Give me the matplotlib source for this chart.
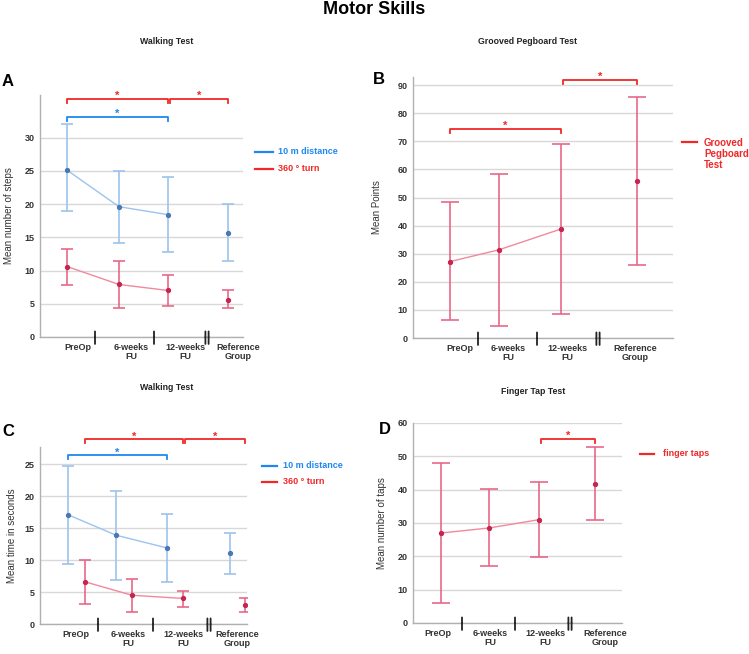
import matplotlib.pyplot as plt
from matplotlib.lines import Line2D

plt.rcParams['font.family'] = ['Liberation Sans', 'DejaVu Sans']
plt.rcParams['font.weight'] = 'bold'

# _____________________________________________________________________________
#                               Data
# _____________________________________________________________________________
groups = ['PreOp', '6-weeks\nFU', '12-weeks\nFU', 'Reference\nGroup']

# A - walking test, number of steps
steps_dist = [25.1, 19.6, 18.4, 15.7]
steps_dist_lo = [18.9, 14.2, 12.8, 11.5]
steps_dist_hi = [32.1, 25.0, 24.1, 20.0]
steps_turn = [10.6, 7.9, 7.0, 5.5]
steps_turn_lo = [7.8, 4.4, 4.6, 4.3]
steps_turn_hi = [13.3, 11.5, 9.4, 7.0]

# B - grooved pegboard, points
peg = [27.2, 31.4, 38.8, 56.0]
peg_lo = [6.3, 4.2, 8.7, 25.9]
peg_hi = [48.5, 58.5, 68.9, 85.8]

# C - walking test, time in seconds
time_dist = [17.1, 13.9, 11.9, 11.1]
time_dist_lo = [9.4, 6.9, 6.6, 7.8]
time_dist_hi = [24.7, 20.8, 17.2, 14.2]
time_turn = [6.6, 4.5, 4.0, 3.0]
time_turn_lo = [3.2, 1.8, 2.6, 1.8]
time_turn_hi = [10.0, 7.0, 5.2, 4.1]

# D - finger tap test
taps = [27.0, 28.5, 31.0, 41.8]
taps_lo = [6.0, 17.0, 19.7, 31.0]
taps_hi = [48.0, 40.2, 42.2, 52.9]

# significance brackets: (from group, to group, height)
sig_a_red = [(0, 2, 35.8), (2, 3, 35.8)]
sig_a_blue = [(0, 2, 33.1)]
sig_b = [(0, 2, 74.4), (2, 3, 91.8)]
sig_c_red = [(0, 2, 28.9), (2, 3, 28.9)]
sig_c_blue = [(0, 2, 26.4)]
sig_d = [(2, 3, 55.2)]

# _____________________________________________________________________________
#                           Graphic settings
# _____________________________________________________________________________
W, H = 749, 654
BLUE_BAR = '#9cc3ee'
BLUE_PT = '#4a78b4'
RED_BAR = '#e8688a'
RED_LINE = '#f08a9c'
RED_PT = '#c42650'
BLUE_SIG = '#1e88f0'
RED_SIG = '#f02828'
TXT = '#333333'

fig = plt.figure(figsize=(W / 100, H / 100), dpi=100)


def px_rect(x0, y0, x1, y1):
    # pixel box (top-left origin) to figure fraction
    return [x0 / W, 1 - y1 / H, (x1 - x0) / W, (y1 - y0) / H]


def panel(box, ylim, yticks, ylabel, xlab, xsep, ylab_x):
    ax = fig.add_axes(px_rect(*box))
    ax.set_xlim(0, box[2] - box[0])
    ax.set_ylim(*ylim)
    ax.set_yticks(yticks)
    ax.set_xticks([])
    ax.grid(axis='y', color='#d8d8d8', lw=1)
    ax.set_axisbelow(True)
    for s in ['top', 'right']:
        ax.spines[s].set_visible(False)
    for s in ['left', 'bottom']:
        ax.spines[s].set_color('#b0b0b0')
        ax.spines[s].set_linewidth(1)
    ax.spines['left'].set_bounds(0, ylim[1])
    ax.tick_params(axis='y', length=0, labelsize=6.5, labelcolor=TXT, pad=4)
    ax.set_ylabel(ylabel, fontsize=7, color=TXT)
    ax.yaxis.set_label_coords(ylab_x, 0.5)
    trans = ax.get_xaxis_transform()
    for x, g in zip(xlab, groups):
        ax.annotate(g, (x, 0), xycoords=trans, xytext=(0, -4),
                    textcoords='offset points', ha='center', va='top',
                    fontsize=6.5, color=TXT, linespacing=1.1)
    # category separators (double one before the reference group)
    for i, x in enumerate(xsep):
        offs = [-1.6, 1.6] if i == len(xsep) - 1 else [0]
        for o in offs:
            ax.annotate('', (x + o, 0), xycoords=trans, xytext=(0, -5),
                        textcoords='offset points',
                        arrowprops=dict(arrowstyle='-', color='#222222',
                                        lw=1.3, shrinkA=0, shrinkB=0))
            ax.annotate('', (x + o, 0), xycoords=trans, xytext=(0, 4),
                        textcoords='offset points',
                        arrowprops=dict(arrowstyle='-', color='#222222',
                                        lw=1.3, shrinkA=0, shrinkB=0))
    return ax


def series(ax, xs, mean, lo, hi, bar_c, line_c, pt_c, cap):
    ax.plot(xs[:3], mean[:3], color=line_c, lw=1, zorder=3)
    err = [[m - l for m, l in zip(mean, lo)], [h - m for m, h in zip(mean, hi)]]
    ax.errorbar(xs, mean, yerr=err, fmt='none', ecolor=bar_c, elinewidth=1.2,
                capsize=cap, capthick=1.2, zorder=2)
    ax.plot(xs, mean, 'o', color=pt_c, ms=2.8, zorder=4)


def brackets(ax, xs, sigs, color, drop):
    for a, b, y in sigs:
        x0 = xs[a] + (2 if a > 0 else 0)
        x1 = xs[b]
        ax.plot([x0, x0, x1, x1], [y - drop, y, y, y - drop], color=color,
                lw=1.3, clip_on=False)
        ax.annotate('*', ((x0 + x1) / 2, y), xytext=(0, -1.5),
                    textcoords='offset points', color=color, ha='center',
                    va='bottom', fontsize=8, annotation_clip=False)


def key(x0, x1, xt, y0, step, entries, size=6.5):
    # legend drawn in figure pixels: line from x0 to x1, text at xt
    for i, (c, t) in enumerate(entries):
        y = 1 - (y0 + i * step) / H
        fig.add_artist(Line2D([x0 / W, x1 / W], [y, y], color=c, lw=1.6,
                              transform=fig.transFigure))
        fig.text(xt / W, y + 4.5 / H, t, color=c, fontsize=size, ha='left',
                 va='top', linespacing=1.15)


# _____________________________________________________________________________
#                               Titles
# _____________________________________________________________________________
fig.text(374 / W, 1 - 10 / H, 'Motor Skills', ha='center', va='center',
         fontsize=13)
for x, y, t in [(167, 42, 'Walking Test'), (527, 42, 'Grooved Pegboard Test'),
                (167, 388, 'Walking Test'), (533, 391, 'Finger Tap Test')]:
    fig.text(x / W, 1 - y / H, t, ha='center', va='center', fontsize=6.3,
             color='#222222')
for x, y, t in [(8, 81, 'A'), (379, 79, 'B'), (8, 431, 'C'), (385, 430, 'D')]:
    fig.text(x / W, 1 - y / H, t, ha='center', va='center', fontsize=12)

# _____________________________________________________________________________
#                       A - walking test (steps)
# _____________________________________________________________________________
xa = [27, 79, 128, 188]
ax = panel((40, 95, 243, 337), (0, 36.4), range(0, 31, 5),
           'Mean number of steps', [38, 91, 145, 198], [55, 114, 167], -0.13)
series(ax, xa, steps_dist, steps_dist_lo, steps_dist_hi,
       BLUE_BAR, BLUE_BAR, BLUE_PT, 4.3)
series(ax, xa, steps_turn, steps_turn_lo, steps_turn_hi,
       RED_BAR, RED_LINE, RED_PT, 4.3)
brackets(ax, xa, sig_a_red, RED_SIG, 0.6)
brackets(ax, xa, sig_a_blue, BLUE_SIG, 0.6)
key(255, 273, 278, 152, 16.5, [(BLUE_SIG, '10 m distance'),
                               (RED_SIG, '360 ° turn')])

# _____________________________________________________________________________
#                       B - grooved pegboard
# _____________________________________________________________________________
xb = [37, 86, 148, 224]
ax = panel((413, 77, 673, 338), (0, 92.9), range(0, 91, 10),
           'Mean Points', [47, 95, 154, 222], [65, 124, 185], -0.12)
series(ax, xb, peg, peg_lo, peg_hi, RED_BAR, RED_LINE, RED_PT, 6.5)
brackets(ax, xb, sig_b, RED_SIG, 1.5)
key(682, 697, 704, 142, 0, [(RED_SIG, 'Grooved\nPegboard\nTest')], size=7)

# _____________________________________________________________________________
#                       C - walking test (time)
# _____________________________________________________________________________
xc_b = [28, 76, 127, 190]
xc_r = [45, 92, 143, 205]
ax = panel((40, 447, 247, 624), (0, 27.7), range(0, 26, 5),
           'Mean time in seconds', [36, 88, 143, 197], [58, 113, 169], -0.11)
series(ax, xc_b, time_dist, time_dist_lo, time_dist_hi,
       BLUE_BAR, BLUE_BAR, BLUE_PT, 4.3)
series(ax, xc_r, time_turn, time_turn_lo, time_turn_hi,
       RED_BAR, RED_LINE, RED_PT, 4.3)
brackets(ax, xc_r, sig_c_red, RED_SIG, 0.55)
brackets(ax, xc_b, sig_c_blue, BLUE_SIG, 0.55)
key(262, 277, 283, 466, 16, [(BLUE_SIG, '10 m distance'),
                             (RED_SIG, '360 ° turn')])

# _____________________________________________________________________________
#                       D - finger tap test
# _____________________________________________________________________________
xd = [28, 76, 126, 182]
ax = panel((413, 423, 622, 623), (0, 60), range(0, 61, 10),
           'Mean number of taps', [25, 77, 132, 192], [49, 102, 157], -0.125)
series(ax, xd, taps, taps_lo, taps_hi, RED_BAR, RED_LINE, RED_PT, 6.5)
brackets(ax, xd, sig_d, RED_SIG, 1.2)
key(640, 654, 663, 454, 0, [(RED_SIG, 'finger taps')])

fig.savefig('out.png', dpi=100)
